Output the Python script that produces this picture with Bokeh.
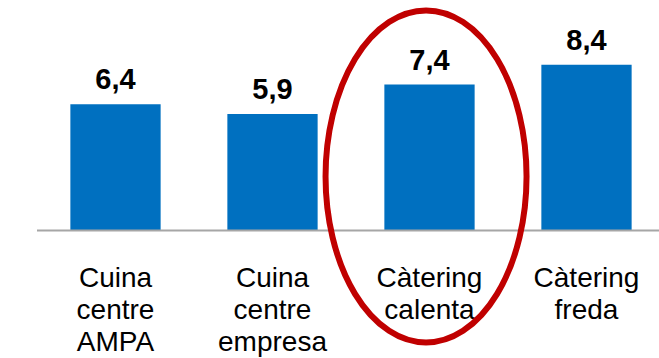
from bokeh.plotting import figure
from bokeh.models import Range1d, ColumnDataSource
from bokeh.core.properties import value
from bokeh.embed import file_html
from bokeh.resources import INLINE

categories = ["Cuina\ncentre\nAMPA", "Cuina\ncentre\nempresa", "Càtering\ncalenta", "Càtering\nfreda"]
values = [6.4, 5.9, 7.4, 8.4]
value_labels = ["6,4", "5,9", "7,4", "8,4"]
highlight_index = 2

xs = list(range(len(categories)))

W, H = 659, 358
p = figure(width=W, height=H, output_backend="svg", toolbar_location=None,
           x_range=Range1d(-0.7325, 3.465), y_range=Range1d(-6.49, 11.66),
           min_border=0, outline_line_color=None, background_fill_color="white",
           border_fill_color="white")
p.axis.visible = False
p.grid.visible = False

src = ColumnDataSource(dict(x=xs, top=values, lab=value_labels, cat=categories))

p.vbar(x="x", top="top", bottom=0, width=0.575, source=src,
       fill_color="#0070C0", line_color=None)

# baseline axis
p.segment(x0=[-0.5], y0=[0], x1=[3.6], y1=[0], line_color="#A6A6A6", line_width=2)

# value labels
p.text(x="x", y="top", text="lab", source=src, text_align="center",
       text_baseline="alphabetic", y_offset=-25,
       text_font=value("Liberation Sans"), text_font_style="bold",
       text_font_size="29px", text_color="black")

# category labels
p.text(x="x", y=0, text="cat", source=src, text_align="center",
       text_baseline="top", y_offset=32, text_line_height=1.02,
       text_font=value("Liberation Sans"), text_font_size="28px",
       text_color="black")

# highlight ellipse
p.ellipse(x=[xs[highlight_index] - 0.022], y=[2.74], width=201, height=332,
          width_units="screen", height_units="screen",
          fill_color=None, line_color="#C00000", line_width=6)

open("out.html", "w").write(file_html(p, INLINE))
